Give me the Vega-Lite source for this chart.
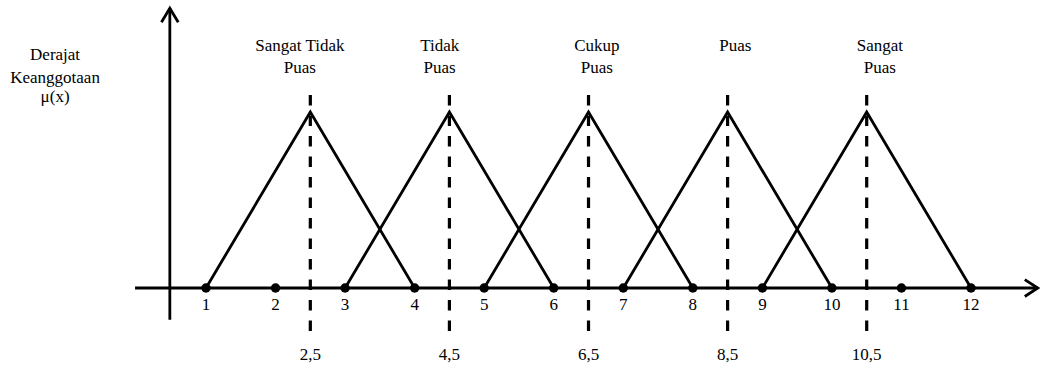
{
  "$schema": "https://vega.github.io/schema/vega-lite/v6.json",
  "width": 1051,
  "height": 368,
  "autosize": {"type": "fit", "contains": "padding"},
  "padding": 0,
  "background": "white",
  "config": {"view": {"stroke": null}, "text": {"font": "'Liberation Serif', 'Times New Roman', serif"}},
  "datasets": {
    "sets": [
      {"set": "Sangat Tidak Puas", "x": 1, "mu": 0},
      {"set": "Sangat Tidak Puas", "x": 2.5, "mu": 1},
      {"set": "Sangat Tidak Puas", "x": 4, "mu": 0},
      {"set": "Tidak Puas", "x": 3, "mu": 0},
      {"set": "Tidak Puas", "x": 4.5, "mu": 1},
      {"set": "Tidak Puas", "x": 6, "mu": 0},
      {"set": "Cukup Puas", "x": 5, "mu": 0},
      {"set": "Cukup Puas", "x": 6.5, "mu": 1},
      {"set": "Cukup Puas", "x": 8, "mu": 0},
      {"set": "Puas", "x": 7, "mu": 0},
      {"set": "Puas", "x": 8.5, "mu": 1},
      {"set": "Puas", "x": 10, "mu": 0},
      {"set": "Sangat Puas", "x": 9, "mu": 0},
      {"set": "Sangat Puas", "x": 10.5, "mu": 1},
      {"set": "Sangat Puas", "x": 12, "mu": 0}
    ],
    "ticks": [
      {"x": 1}, {"x": 2}, {"x": 3}, {"x": 4}, {"x": 5}, {"x": 6},
      {"x": 7}, {"x": 8}, {"x": 9}, {"x": 10}, {"x": 11}, {"x": 12}
    ],
    "peaks": [
      {"x": 2.5, "label": "2,5"},
      {"x": 4.5, "label": "4,5"},
      {"x": 6.5, "label": "6,5"},
      {"x": 8.5, "label": "8,5"},
      {"x": 10.5, "label": "10,5"}
    ],
    "axes": [
      {"x": -0.02, "y": 0, "x2": 12.96, "y2": 0},
      {"x": 0.48, "y": -0.18, "x2": 0.48, "y2": 1.59}
    ],
    "names": [
      {"x": 2.35, "y": 1.377, "t": "Sangat Tidak"},
      {"x": 2.35, "y": 1.252, "t": "Puas"},
      {"x": 4.36, "y": 1.377, "t": "Tidak"},
      {"x": 4.36, "y": 1.252, "t": "Puas"},
      {"x": 6.62, "y": 1.377, "t": "Cukup"},
      {"x": 6.62, "y": 1.252, "t": "Puas"},
      {"x": 8.61, "y": 1.377, "t": "Puas"},
      {"x": 10.69, "y": 1.377, "t": "Sangat"},
      {"x": 10.69, "y": 1.252, "t": "Puas"},
      {"x": -1.17, "y": 1.324, "t": "Derajat"},
      {"x": -1.17, "y": 1.193, "t": "Keanggotaan"},
      {"x": -1.17, "y": 1.085, "t": "μ(x)"}
    ]
  },
  "layer": [
    {
      "data": {"name": "axes"},
      "mark": {"type": "rule", "color": "black", "strokeWidth": 2.8},
      "encoding": {
        "x": {"field": "x", "type": "quantitative", "scale": {"domain": [-1.962, 13.15], "nice": false, "zero": false}, "axis": null},
        "y": {"field": "y", "type": "quantitative", "scale": {"domain": [-0.4545, 1.6364], "nice": false, "zero": false}, "axis": null},
        "x2": {"field": "x2"},
        "y2": {"field": "y2"}
      }
    },
    {
      "data": {"values": [{"x": 12.96, "y": 0}]},
      "mark": {"type": "point", "shape": "M -1 -0.65 L 0 0 L -1 0.65", "filled": false, "stroke": "black", "strokeWidth": 2.8, "size": 676, "opacity": 1},
      "encoding": {
        "x": {"field": "x", "type": "quantitative"},
        "y": {"field": "y", "type": "quantitative"}
      }
    },
    {
      "data": {"values": [{"x": 0.48, "y": 1.59}]},
      "mark": {"type": "point", "shape": "M -0.6 1 L 0 0 L 0.6 1", "filled": false, "stroke": "black", "strokeWidth": 2.8, "size": 784, "opacity": 1},
      "encoding": {
        "x": {"field": "x", "type": "quantitative"},
        "y": {"field": "y", "type": "quantitative"}
      }
    },
    {
      "data": {"name": "peaks"},
      "mark": {"type": "rule", "color": "black", "strokeWidth": 3.2, "strokeDash": [10.5, 10]},
      "encoding": {
        "x": {"field": "x", "type": "quantitative"},
        "y": {"datum": 1.097, "type": "quantitative"},
        "y2": {"datum": -0.267}
      }
    },
    {
      "data": {"name": "sets"},
      "mark": {"type": "line", "color": "black", "strokeWidth": 2.8},
      "encoding": {
        "x": {"field": "x", "type": "quantitative"},
        "y": {"field": "mu", "type": "quantitative"},
        "detail": {"field": "set"},
        "order": {"field": "x"}
      }
    },
    {
      "data": {"name": "ticks"},
      "mark": {"type": "point", "shape": "circle", "filled": true, "color": "black", "size": 90, "opacity": 1},
      "encoding": {
        "x": {"field": "x", "type": "quantitative"},
        "y": {"datum": 0, "type": "quantitative"}
      }
    },
    {
      "data": {"name": "ticks"},
      "mark": {"type": "text", "fontSize": 17, "color": "black", "align": "center", "baseline": "middle"},
      "encoding": {
        "x": {"field": "x", "type": "quantitative"},
        "y": {"datum": -0.097, "type": "quantitative"},
        "text": {"field": "x"}
      }
    },
    {
      "data": {"name": "peaks"},
      "mark": {"type": "text", "fontSize": 17, "color": "black", "align": "center", "baseline": "middle"},
      "encoding": {
        "x": {"field": "x", "type": "quantitative"},
        "y": {"datum": -0.383, "type": "quantitative"},
        "text": {"field": "label"}
      }
    },
    {
      "data": {"name": "names"},
      "mark": {"type": "text", "fontSize": 17, "color": "black", "align": "center", "baseline": "middle"},
      "encoding": {
        "x": {"field": "x", "type": "quantitative"},
        "y": {"field": "y", "type": "quantitative"},
        "text": {"field": "t"}
      }
    }
  ]
}
